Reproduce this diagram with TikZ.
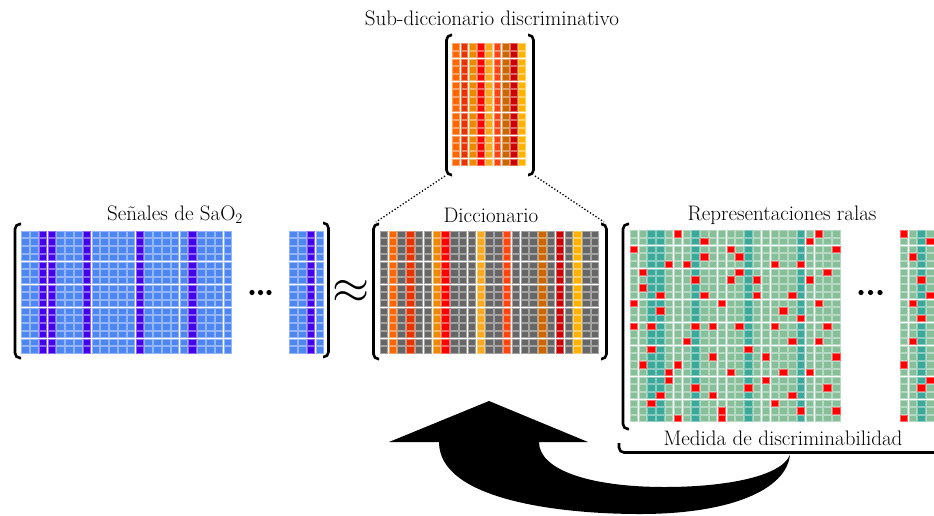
\documentclass[tikz,border=0pt]{standalone}
\usepackage{amsmath}
\definecolor{sigblue}{HTML}{4D86F2}
\definecolor{sigpurple}{HTML}{4400EE}
\definecolor{dictgray}{HTML}{666666}
\definecolor{cA}{HTML}{FF6600}
\definecolor{cB}{HTML}{E63300}
\definecolor{cC}{HTML}{EE8800}
\definecolor{cD}{HTML}{FF0000}
\definecolor{cE}{HTML}{FAA81C}
\definecolor{cF}{HTML}{FF4411}
\definecolor{cG}{HTML}{CC6600}
\definecolor{cH}{HTML}{CC0000}
\definecolor{cI}{HTML}{FFB300}
\definecolor{spgreen}{HTML}{86BF99}
\definecolor{spteal}{HTML}{3BA99A}
\definecolor{spred}{HTML}{FF0000}
\tikzset{
  cellbox/.style={fill=#1, draw=#1!60!white, line width=0.5pt},
  bracketline/.style={line width=2.6pt, rounded corners=5pt},
  lbl/.style={font=\fontsize{21}{25}\selectfont, inner sep=0pt},
  dotline/.style={dotted, line width=1.3pt},
}
% x0, y0, ncols, nrows, px, py, colour
\newcommand\cellgrid[7]{%
  \foreach \ci in {1,...,#3}{\foreach \rj in {1,...,#4}{%
    \path[cellbox=#7] ({#1+(\ci-1)*#5},{#2+(\rj-1)*#6}) rectangle ++({#5-1.3},{#6-1.3});}}}
% x0, y0, px, py, nrows, column, colour
\newcommand\paintcol[7]{%
  \foreach \rj in {1,...,#5}{%
    \path[cellbox=#7] ({#1+(#6-1)*#3},{#2+(\rj-1)*#4}) rectangle ++({#3-1.3},{#4-1.3});}}
% x0, y0, px, py, colour, list col/row
\newcommand\paintcells[6]{%
  \foreach \ci/\rj in {#6}{%
    \path[cellbox=#5] ({#1+(\ci-1)*#3},{#2+(\rj-1)*#4}) rectangle ++({#3-1.3},{#4-1.3});}}
\begin{document}
\begin{tikzpicture}[x=1pt,y=-1pt]
\clip (0,0) rectangle (934,515);
\fill[white] (0,0) rectangle (934,515);

% ---------- signals ----------
\cellgrid{21.5}{231}{24}{16}{8.8}{7.7}{sigblue}
\foreach \kk in {3,4,8,14,20}{\paintcol{21.5}{231}{8.8}{7.7}{16}{\kk}{sigpurple}}
\cellgrid{289.5}{231}{4}{16}{8.8}{7.7}{sigblue}
\paintcol{289.5}{231}{8.8}{7.7}{16}{3}{sigpurple}
\draw[bracketline] (21,224) -- (15,224) -- (15,358) -- (21,358);
\draw[bracketline] (323,223) -- (328.5,223) -- (328.5,357) -- (323,357);
\node[lbl] (siglabel) at (175,215) {Señales de SaO$_2$};
\foreach \dx in {252,260.5,269}{\fill (\dx,292.5) circle (2.6);}
\node[inner sep=0pt, font=\fontsize{20}{20}\selectfont] (approx) at (351,292) {\scalebox{2.3}{$\approx$}};

% ---------- dictionary ----------
\cellgrid{380}{231}{25}{16}{8.8}{7.7}{dictgray}
\foreach \kk/\cc in {2/cA,4/cB,7/cC,8/cD,12/cE,15/cF,19/cG,21/cH,23/cI}{\paintcol{380}{231}{8.8}{7.7}{16}{\kk}{\cc}}
\draw[bracketline] (379,224) -- (373.5,224) -- (373.5,359) -- (379,359);
\draw[bracketline] (601,224) -- (606.5,224) -- (606.5,359) -- (601,359);
\node[lbl] (dictlabel) at (491,215) {Diccionario};
\coordinate (dtl) at (376,222);
\coordinate (dtr) at (604,222);

% ---------- sub-dictionary ----------
\foreach \kk/\cc in {1/cA,2/cB,3/cC,4/cD,5/cE,6/cF,7/cG,8/cH,9/cI}{\paintcol{452.5}{43.5}{8.25}{7.7}{16}{\kk}{\cc}}
\draw[bracketline] (452,35) -- (446.5,35) -- (446.5,175) -- (452,175);
\draw[bracketline] (528,35) -- (533.5,35) -- (533.5,175) -- (528,175);
\node[lbl] (sublabel) at (492,18) {Sub-diccionario discriminativo};
\coordinate (sbl) at (445,176);
\coordinate (sbr) at (535,176);
\draw[dotline] (sbl) -- (dtl);
\draw[dotline] (sbr) -- (dtr);

% ---------- sparse representations ----------
\cellgrid{630}{230.5}{24}{25}{8.8}{7.7}{spgreen}
\foreach \kk in {3,4,8,14,20}{\paintcol{630}{230.5}{8.8}{7.7}{25}{\kk}{spteal}}
\paintcells{630}{230.5}{8.8}{7.7}{spred}{6/1,22/1,9/2,21/2,1/3,12/3,24/3,9/4,13/4,5/5,7/5,17/5,20/5,2/6,13/6,23/6,8/7,12/7,15/7,21/7,2/8,4/9,9/9,15/9,19/9,1/10,11/10,22/10,4/11,18/11,20/12,1/13,3/13,8/13,10/13,13/13,17/13,23/13,7/15,19/15,22/15,3/16,14/16,10/17,16/17,24/17,2/18,6/18,5/19,12/19,18/19,21/19,5/20,16/20,8/21,14/21,23/21,4/22,10/22,19/22,3/23,17/23,11/24,20/24,24/24,6/25,11/25}
\cellgrid{900}{230.5}{4}{25}{8.8}{7.7}{spgreen}
\paintcol{900}{230.5}{8.8}{7.7}{25}{3}{spteal}
\paintcells{900}{230.5}{8.8}{7.7}{spred}{1/1,4/2,2/4,3/7,4/9,2/10,3/12,2/15,1/18,4/20,3/21,1/25}
\draw[bracketline] (629,224) -- (623,224) -- (623,429) -- (629,429);
\node[lbl] (replabel) at (782,215) {Representaciones ralas};
\foreach \dx in {861,870.5,880}{\fill (\dx,292.5) circle (2.6);}

% ---------- discriminability brace ----------
\draw[bracketline] (619,443) -- (619,452.5) -- (960,452.5);
\node[lbl] (medlabel) at (783,438) {Medida de discriminabilidad};

% ---------- feedback arrow ----------
\coordinate (tail) at (790,455);
\coordinate (tip) at (489,401);
\fill[black] (439,442) .. controls (439,500) and (560,514) .. (640,514)
  .. controls (730,514) and (786,490) .. (tail)
  .. controls (780,478) and (720,487) .. (665,487)
  .. controls (590,487) and (539,470) .. (539,442)
  -- (588,442) -- (tip) -- (389,442) -- cycle;
\end{tikzpicture}
\end{document}
